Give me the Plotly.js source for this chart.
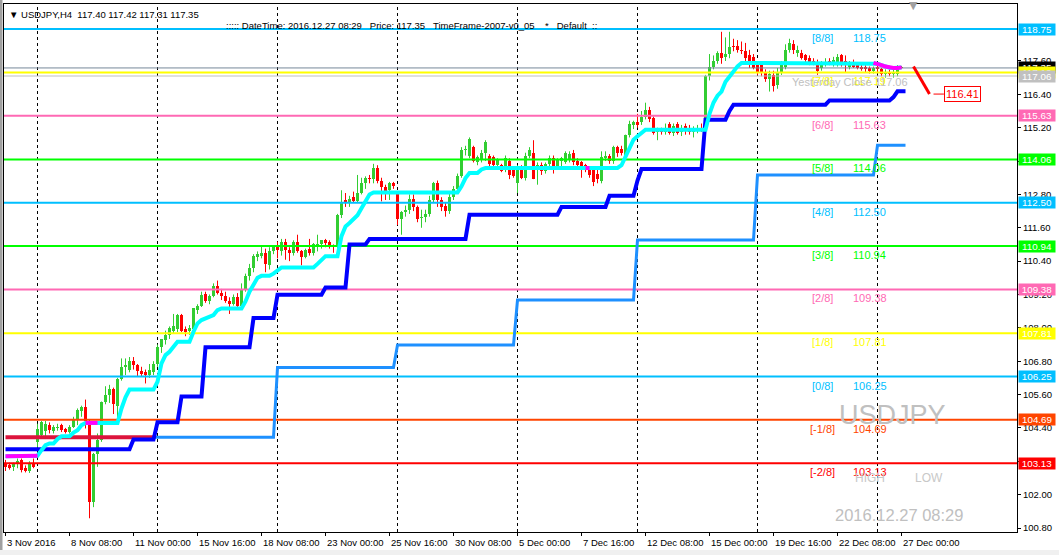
<!DOCTYPE html>
<html><head><meta charset="utf-8">
<script src="https://cdn.plot.ly/plotly-3.0.1.min.js"></script>
<style>html,body{margin:0;padding:0;background:#fff;overflow:hidden}#chart{width:1059px;height:555px}</style>
</head><body><div id="chart"></div>
<script>
// ---- H4 candles (bar index 0 = first visible bar) ----
const barOpen = [
103.15,103.05,102.98,103.10,103.25,102.95,102.85,103.15,103.90,104.15,
104.30,104.50,104.30,104.40,104.50,104.35,104.25,104.45,104.70,105.00,
105.15,104.60,101.75,103.45,103.95,105.35,105.60,105.80,105.20,106.15,
106.60,106.50,106.80,106.65,106.45,106.40,106.30,106.40,106.70,107.30,
107.55,107.75,107.90,107.95,108.45,107.95,107.90,107.95,108.65,108.80,
109.20,108.95,109.15,109.50,109.25,109.15,108.95,108.85,109.10,108.80,
109.40,109.85,110.15,110.55,110.60,110.70,110.25,110.75,110.90,110.75,
111.10,110.80,110.70,111.10,110.75,110.55,110.85,110.70,110.90,111.00,
111.15,111.10,110.95,110.90,112.05,112.60,112.50,112.70,112.55,112.85,
113.20,113.40,113.35,113.75,113.30,113.05,112.95,113.20,112.80,111.90,
112.15,112.25,112.65,112.35,111.95,112.00,112.10,112.60,113.20,112.60,
112.40,112.20,112.70,113.00,113.45,114.40,114.20,114.50,113.95,114.05,
114.30,114.20,114.15,113.85,113.85,113.70,114.00,113.75,113.20,113.80,
113.40,114.20,114.30,113.70,113.85,113.65,113.90,114.10,113.80,114.00,
113.95,114.05,114.30,114.00,113.95,113.85,113.70,113.75,113.55,113.30,
114.10,114.20,114.00,114.50,114.45,114.20,114.95,115.30,115.40,115.40,
115.60,115.85,115.55,115.05,115.15,115.05,115.35,115.00,115.35,115.05,
115.25,115.15,115.05,115.15,115.20,115.10,117.05,117.40,117.60,117.90,
117.75,117.85,118.15,118.15,118.00,117.95,117.80,117.75,117.45,117.45,
117.20,116.95,117.10,116.75,117.20,117.40,118.00,118.20,117.90,117.90,
117.80,117.70,117.60,117.55,117.35,117.50,117.60,117.50,117.55,117.80,
117.60,117.40,117.55,117.45,117.40,117.40,117.35,117.25,117.40,117.30,
117.15,117.20,117.15,117.15,117.40];
const barHigh = [
103.25,103.15,103.15,103.30,103.30,103.05,103.20,103.30,104.55,104.65,
104.65,104.60,104.50,104.55,104.55,104.40,104.50,104.80,105.10,105.20,
105.42,104.70,103.50,104.20,105.35,105.90,105.95,105.85,106.20,106.90,
106.90,106.95,106.95,106.70,106.60,106.50,106.70,106.80,107.40,107.60,
107.90,108.05,108.50,108.50,108.50,108.05,108.10,108.70,108.85,109.30,
109.30,109.20,109.60,109.70,109.40,109.30,109.10,109.20,109.25,109.60,
109.95,110.30,110.65,110.75,110.95,110.85,110.90,110.95,111.10,111.20,
111.20,110.90,111.15,111.35,110.80,110.85,111.20,111.05,111.35,111.15,
111.20,111.15,111.00,112.10,112.95,112.85,112.75,112.90,113.50,113.40,
113.45,113.50,113.90,113.85,113.40,113.15,113.25,113.25,112.85,112.20,
112.40,112.80,112.80,112.40,112.25,112.25,112.75,113.25,113.30,112.70,
112.50,112.85,113.10,113.55,114.50,114.55,114.85,114.55,114.20,114.40,
114.75,114.25,114.20,114.10,113.90,114.20,114.10,113.80,113.85,113.85,
114.30,114.50,114.75,113.95,113.95,113.95,114.20,114.20,114.10,114.15,
114.35,114.35,114.40,114.10,114.00,113.90,113.75,113.80,113.70,114.35,
114.35,114.25,114.55,114.55,114.55,114.95,115.45,115.45,115.70,115.80,
116.10,115.95,115.60,115.20,115.20,115.35,115.40,115.35,115.40,115.30,
115.35,115.30,115.25,115.30,115.35,117.10,117.85,117.80,117.95,118.65,
118.45,118.65,118.40,118.35,118.30,118.25,118.00,117.85,117.50,117.50,
117.30,117.25,117.25,117.35,117.60,118.20,118.40,118.35,118.15,118.00,
117.85,117.80,117.70,117.65,117.60,117.70,117.70,117.75,117.85,117.85,
117.80,117.60,117.65,117.50,117.50,117.45,117.40,117.40,117.45,117.35,
117.30,117.30,117.30,117.45,117.42];
const barLow = [
102.85,102.90,102.85,102.95,102.80,102.80,102.78,102.95,103.70,104.10,
104.00,104.20,104.20,104.30,104.25,104.20,104.20,104.40,104.50,104.80,
104.38,101.15,101.55,103.00,103.90,105.25,105.30,104.90,104.75,106.10,
106.30,106.40,106.50,106.25,106.25,106.00,106.20,106.30,106.60,107.10,
107.40,107.60,107.80,107.85,107.85,107.70,107.75,107.90,108.50,108.75,
108.90,108.85,109.10,109.20,109.00,108.90,108.50,108.80,108.70,108.75,
109.30,109.70,110.00,110.40,110.50,110.00,110.10,110.65,110.50,110.60,
110.45,110.40,110.60,110.70,110.25,110.50,110.60,110.60,110.75,110.85,
110.90,110.85,110.70,110.80,111.95,112.35,112.35,112.50,112.50,112.80,
113.00,113.20,113.20,113.20,112.55,112.60,112.60,113.00,111.70,111.35,
112.00,112.10,112.20,111.80,111.60,111.80,112.00,112.50,112.35,112.20,
112.00,112.10,112.60,112.90,113.40,114.20,114.10,113.95,113.85,113.95,
114.00,113.70,113.75,113.70,113.60,113.60,113.35,113.40,112.85,113.35,
113.30,114.10,113.35,113.15,113.50,113.55,113.80,113.55,113.70,113.80,
113.90,113.95,113.85,113.80,113.40,113.60,113.40,113.10,113.20,113.20,
114.00,113.90,113.90,114.15,114.20,114.10,114.85,115.15,115.20,115.30,
115.50,115.40,114.95,114.75,114.95,114.95,114.95,114.90,114.95,114.90,
114.95,114.95,114.85,115.00,115.05,115.00,116.90,117.30,117.50,117.50,
117.60,117.70,117.95,117.90,117.85,117.60,117.35,117.30,117.10,117.05,
116.85,116.50,116.50,116.60,117.10,117.30,117.90,117.85,117.75,117.65,
117.55,117.45,117.45,117.10,117.25,117.40,117.45,117.40,117.40,117.40,
117.20,117.30,117.35,117.30,117.25,117.20,117.15,117.15,117.20,117.05,
117.00,117.05,117.00,117.05,117.31];
const barClose = [
103.00,102.95,103.10,103.20,102.90,102.85,103.15,103.00,104.35,104.60,
104.55,104.32,104.42,104.45,104.33,104.25,104.45,104.70,105.05,105.15,
104.66,101.75,103.46,103.95,105.35,105.60,105.80,105.25,106.15,106.60,
106.65,106.80,106.65,106.45,106.35,106.30,106.50,106.70,107.30,107.60,
107.75,108.00,108.05,108.45,107.90,107.85,108.00,108.70,108.80,109.18,
108.95,109.15,109.50,109.25,109.15,108.95,108.85,109.10,108.80,109.40,
109.85,110.15,110.60,110.65,110.70,110.30,110.75,110.90,110.80,111.10,
110.80,110.70,111.10,110.75,110.55,110.80,110.70,111.00,111.00,111.15,
111.05,110.90,110.90,112.07,112.50,112.50,112.65,112.55,112.85,113.20,
113.40,113.35,113.75,113.30,113.05,112.90,113.20,113.10,111.90,112.15,
112.25,112.65,112.35,111.90,112.00,112.10,112.60,113.20,112.60,112.35,
112.20,112.70,113.00,113.45,114.40,114.45,114.80,114.00,114.15,114.30,
114.70,113.90,113.85,114.05,113.65,114.10,113.50,113.45,113.80,113.40,
114.20,114.40,113.35,113.85,113.65,113.90,114.10,113.80,114.05,114.10,
114.30,114.25,113.95,113.85,113.70,113.70,113.50,113.25,113.35,114.15,
114.20,114.00,114.50,114.30,114.30,114.95,115.35,115.40,115.30,115.60,
115.85,115.50,115.00,115.15,115.05,115.20,115.00,115.25,115.00,115.20,
115.10,115.05,115.15,115.20,115.10,117.05,117.40,117.60,117.90,117.70,
117.85,118.10,118.10,118.00,117.95,117.70,117.50,117.35,117.20,117.20,
116.95,117.15,116.70,117.20,117.45,118.00,118.25,118.00,118.00,117.70,
117.65,117.55,117.50,117.25,117.50,117.55,117.50,117.65,117.75,117.55,
117.50,117.55,117.40,117.35,117.30,117.30,117.25,117.35,117.30,117.15,
117.20,117.15,117.20,117.40,117.35];

// ---- trailing line (cyan; magenta where it turns down) ----
const trailLine = [
103.38,103.38,103.38,103.38,103.38,103.38,103.38,103.38,103.40,103.60,
103.78,103.84,103.84,104.00,104.10,104.10,104.10,104.23,104.32,104.50,
104.58,104.58,104.58,104.58,104.58,104.58,104.58,104.58,104.58,105.10,
105.50,105.78,105.78,105.78,105.78,105.78,105.78,105.78,106.06,106.72,
107.02,107.14,107.32,107.50,107.50,107.50,107.50,107.86,108.16,108.28,
108.34,108.40,108.46,108.64,108.70,108.70,108.70,108.70,108.70,108.70,
108.95,109.30,109.55,109.80,109.87,109.87,109.87,109.95,110.05,110.17,
110.17,110.17,110.17,110.17,110.17,110.17,110.17,110.17,110.30,110.45,
110.58,110.58,110.58,110.58,111.30,111.65,111.77,111.90,112.05,112.30,
112.55,112.80,112.87,112.87,112.87,112.87,112.87,112.87,112.87,112.87,
112.87,112.87,112.87,112.87,112.87,112.87,112.87,112.87,112.87,112.87,
112.87,112.87,112.87,112.87,113.09,113.39,113.57,113.57,113.57,113.70,
113.75,113.75,113.75,113.75,113.75,113.75,113.75,113.75,113.75,113.75,
113.75,113.75,113.75,113.75,113.75,113.75,113.75,113.75,113.75,113.75,
113.75,113.75,113.75,113.75,113.75,113.75,113.75,113.75,113.75,113.75,
113.75,113.75,113.75,113.75,113.85,114.17,114.53,114.77,114.89,115.01,
115.13,115.13,115.13,115.13,115.13,115.13,115.13,115.13,115.13,115.13,
115.13,115.13,115.13,115.13,115.13,115.13,115.70,116.10,116.35,116.50,
116.85,117.05,117.23,117.41,117.53,117.53,117.53,117.53,117.53,117.53,
117.53,117.53,117.53,117.53,117.53,117.53,117.53,117.53,117.53,117.53,
117.53,117.53,117.53,117.53,117.53,117.53,117.53,117.53,117.53,117.53,
117.53,117.53,117.53,117.53,117.53,117.53,117.53,117.53,117.50,117.45,
117.40,117.36,117.35,117.35,117.37];
const trailDownSpans = [[0, 8], [20, 23], [145, 146], [217, 224]];

// ---- blue step line ----
const blueStep = [
103.63,103.63,103.63,103.63,103.63,103.63,103.63,103.63,103.63,103.63,
103.63,103.63,103.63,103.63,103.63,103.63,103.63,103.63,103.63,103.63,
103.63,103.63,103.63,103.63,103.63,103.63,103.63,103.63,103.63,103.63,
103.63,103.63,103.98,103.98,103.98,103.98,103.98,103.98,104.60,104.60,
104.60,104.60,104.60,104.60,105.53,105.53,105.53,105.53,105.53,105.53,
107.30,107.30,107.30,107.30,107.30,107.30,107.30,107.30,107.30,107.30,
107.30,107.30,108.35,108.35,108.35,108.35,108.35,108.35,109.19,109.19,
109.19,109.19,109.19,109.19,109.19,109.19,109.19,109.19,109.19,109.19,
109.45,109.45,109.45,109.45,109.45,109.45,111.00,111.00,111.00,111.00,
111.00,111.20,111.20,111.20,111.20,111.20,111.20,111.20,111.20,111.20,
111.20,111.20,111.20,111.20,111.20,111.20,111.20,111.20,111.20,111.20,
111.20,111.20,111.20,111.20,111.20,111.20,112.07,112.07,112.07,112.07,
112.07,112.07,112.07,112.07,112.07,112.07,112.07,112.07,112.07,112.07,
112.07,112.07,112.07,112.07,112.07,112.07,112.07,112.07,112.07,112.35,
112.35,112.35,112.35,112.35,112.35,112.35,112.35,112.35,112.35,112.35,
112.35,112.75,112.75,112.75,112.75,112.75,112.75,112.75,113.30,113.71,
113.71,113.71,113.71,113.71,113.71,113.71,113.71,113.71,113.71,113.71,
113.71,113.71,113.71,113.71,113.71,115.49,115.49,115.49,115.49,115.49,
115.49,115.80,116.03,116.03,116.03,116.03,116.03,116.03,116.03,116.03,
116.03,116.03,116.03,116.03,116.03,116.03,116.03,116.03,116.03,116.03,
116.03,116.03,116.03,116.03,116.03,116.03,116.18,116.18,116.18,116.18,
116.18,116.18,116.18,116.18,116.18,116.18,116.18,116.18,116.18,116.18,
116.18,116.18,116.30,116.51,116.51];

// ---- weekly step line (first week crimson, then dodger blue) ----
const weekStartBars = [0, 37, 68, 98, 128, 158, 188, 218];
const weekLevels = [104.06, 104.06, 106.57, 107.38, 109.00, 111.16, 113.50, 114.57];

// ---- Murrey Math levels ----
const mmNames  = ['[8/8]','[7/8]','[6/8]','[5/8]','[4/8]','[3/8]','[2/8]','[1/8]','[0/8]','[-1/8]','[-2/8]'];
const mmLevels = [118.75, 117.19, 115.63, 114.06, 112.50, 110.94, 109.38, 107.81, 106.25, 104.69, 103.13];
const yesterdayClose = 117.06;
const bidPrice = 117.35;
const projX = [227, 231];
const projY = [117.40, 116.41];
const projTarget = 116.41;

// ---- axes ----
const xTickBars = [0,16,32,48,64,80,96,112,128,144,160,176,192,208,224];
const xTickLabels = ['3 Nov 2016','8 Nov 08:00','11 Nov 00:00','15 Nov 16:00','18 Nov 08:00','23 Nov 00:00',
  '25 Nov 16:00','30 Nov 08:00','5 Dec 00:00','7 Dec 16:00','12 Dec 08:00','15 Dec 00:00','19 Dec 16:00',
  '22 Dec 08:00','27 Dec 00:00'];
const yTickVals = [100.80,102.00,103.20,104.40,105.60,106.80,108.00,109.20,110.40,111.60,112.80,114.00,115.20,116.40,117.60];
const gridBars = [8, 38, 68, 98, 128, 158, 188, 218];

// ================= drawing =================
const UP = '#32CD32', DN = '#FF0000';
const mmColors = ['#00BFFF','#FFFF00','#FF69B4','#00FF00','#00BFFF','#00FF00','#FF69B4','#FFFF00','#00BFFF','#FF4500','#FF0000'];
const FONT = 'Liberation Sans, Arial, sans-serif';
const idx = barOpen.map((_, i) => i);
const XR = [-0.375, 252.875];
const traces = [];

function wick(up) {
  const xs = [], ys = [];
  idx.forEach(i => {
    if ((barClose[i] >= barOpen[i]) === up) { xs.push(i, i, null); ys.push(barLow[i], barHigh[i], null); }
  });
  return {type:'scatter', mode:'lines', x:xs, y:ys, line:{color: up ? UP : DN, width:1}, hoverinfo:'skip'};
}
traces.push(wick(true), wick(false));
traces.push({type:'bar', x:idx, base:barOpen, y:idx.map(i => barClose[i] - barOpen[i]), width:0.75,
  marker:{color: idx.map(i => barClose[i] >= barOpen[i] ? UP : DN), line:{width:0}}, hoverinfo:'skip'});

// horizontal level lines
mmLevels.forEach((lv, k) => {
  traces.push({type:'scatter', mode:'lines', x:XR, y:[lv, lv], line:{color:mmColors[k], width:2}, hoverinfo:'skip'});
});
traces.push({type:'scatter', mode:'lines', x:XR, y:[yesterdayClose, yesterdayClose], line:{color:'#C0C0C0', width:1}, hoverinfo:'skip'});
traces.push({type:'scatter', mode:'lines', x:XR, y:[bidPrice, bidPrice], line:{color:'#778899', width:1}, hoverinfo:'skip'});

// weekly step line
function weekLevelAt(i) { let v = null; weekStartBars.forEach((b, k) => { if (i >= b) v = weekLevels[k]; }); return v; }
const firstWeekEnd = weekStartBars[1];
const lastBar = idx.length - 1;
const wkX = idx.filter(i => i >= firstWeekEnd).concat([lastBar + 1]);
traces.push({type:'scatter', mode:'lines', x:idx.filter(i => i <= firstWeekEnd), y:idx.filter(i => i <= firstWeekEnd).map(() => weekLevels[0]),
  line:{color:'#DC143C', width:4}, hoverinfo:'skip'});
traces.push({type:'scatter', mode:'lines', x:wkX, y:wkX.map(i => weekLevelAt(Math.min(i, lastBar))),
  line:{color:'#1E90FF', width:3}, hoverinfo:'skip'});

// blue step
const blX = idx.concat([lastBar + 1]);
traces.push({type:'scatter', mode:'lines', x:blX, y:blX.map(i => blueStep[Math.min(i, lastBar)]), line:{color:'#0000FF', width:4}, hoverinfo:'skip'});
// trailing line
traces.push({type:'scatter', mode:'lines', x:idx, y:trailLine, line:{color:'#00FFFF', width:4}, hoverinfo:'skip'});
const magentaY = idx.map(i => trailDownSpans.some(s => i >= s[0] && i <= s[1]) ? trailLine[i] : null);
traces.push({type:'scatter', mode:'lines', x:idx, y:magentaY, line:{color:'#FF00FF', width:4}, connectgaps:false, hoverinfo:'skip'});

// projection
traces.push({type:'scatter', mode:'lines', x:projX, y:projY, line:{color:'#FF0000', width:3}, hoverinfo:'skip'});
traces.push({type:'scatter', mode:'lines', x:[projX[1] + 1, projX[1] + 3.6], y:[projTarget, projTarget], line:{color:'#FF0000', width:1}, hoverinfo:'skip'});

// ---- layout helpers (pixel -> paper) ----
const PL = 4, PR = 1017, PT = 4, PB = 532;
const px = v => (v - PL) / (PR - PL);
const py = v => (PB - v) / (PB - PT);

const ann = [];
// level texts
mmLevels.forEach((lv, k) => {
  const c = mmColors[k];
  ann.push({xref:'paper', yref:'y', x:px(822), y:lv, xanchor:'center', yanchor:'top', yshift:-1, showarrow:false,
    text:mmNames[k], font:{family:FONT, size:11, color:c}});
  ann.push({xref:'paper', yref:'y', x:px(869.5), y:lv, xanchor:'center', yanchor:'top', yshift:-1, showarrow:false,
    text:lv.toFixed(2), font:{family:FONT, size:11, color:c}});
});
ann.push({xref:'paper', yref:'paper', x:px(790), y:py(82), xanchor:'left', yanchor:'middle', showarrow:false,
  text:'Yesterday Close ' + yesterdayClose.toFixed(2), font:{family:FONT, size:11, color:'#C0C0C0'}});

// right axis labels
function axisLabel(v, bg) {
  ann.push({xref:'paper', yref:'y', x:1, y:v, xanchor:'left', yanchor:'middle', xshift:1, showarrow:false,
    text:v.toFixed(2), bgcolor:bg, borderpad:1, width:34, height:9, align:'center',
    font:{family:FONT, size:9.8, color:'#FFFFFF'}});
}
mmLevels.forEach((lv, k) => { if (k !== 1) axisLabel(lv, mmColors[k]); });
axisLabel(bidPrice, '#000000');
axisLabel(mmLevels[1], mmColors[1]);
axisLabel(yesterdayClose, '#C0C0C0');

// projection target box
ann.push({xref:'x', yref:'y', x:239.3, y:projTarget, xanchor:'center', yanchor:'middle', showarrow:false,
  text:projTarget.toFixed(2), bgcolor:'#FFFFFF', bordercolor:'#FF0000', borderwidth:1, borderpad:1,
  font:{family:FONT, size:11, color:'#FF0000'}});

// watermarks
ann.push({xref:'paper', yref:'paper', x:px(892.5), y:py(415), xanchor:'center', yanchor:'middle', showarrow:false,
  text:'USDJPY', font:{family:FONT, size:27, color:'#C0C0C0'}});
ann.push({xref:'paper', yref:'paper', x:px(870), y:py(477.5), xanchor:'center', yanchor:'middle', showarrow:false,
  text:'HIGH', font:{family:FONT, size:12, color:'#C8C8C8'}});
ann.push({xref:'paper', yref:'paper', x:px(928.5), y:py(477.5), xanchor:'center', yanchor:'middle', showarrow:false,
  text:'LOW', font:{family:FONT, size:12, color:'#C8C8C8'}});
ann.push({xref:'paper', yref:'paper', x:px(899), y:py(515), xanchor:'center', yanchor:'middle', showarrow:false,
  text:'2016.12.27 08:29', font:{family:FONT, size:16.5, color:'#C0C0C0'}});

// header
const sp = n => '\u00A0'.repeat(n);
ann.push({xref:'paper', yref:'paper', x:px(7), y:py(14.5), xanchor:'left', yanchor:'middle', showarrow:false,
  text:'\u25BC' + sp(1) + 'USDJPY,H4' + sp(2) + barOpen[lastBar].toFixed(2) + ' ' + barHigh[lastBar].toFixed(2) + ' ' + barLow[lastBar].toFixed(2) + ' ' + barClose[lastBar].toFixed(2),
  font:{family:FONT, size:9.5, color:'#000'}});
ann.push({xref:'paper', yref:'paper', x:px(224), y:py(25.5), xanchor:'left', yanchor:'middle', showarrow:false,
  text:':::::' + sp(1) + 'DateTime:' + sp(1) + '2016.12.27 08:29' + sp(3) + 'Price:' + sp(1) + bidPrice.toFixed(2) + sp(3) +
       'TimeFrame-2007-v0_05' + sp(4) + '*' + sp(3) + 'Default' + sp(2) + '::',
  font:{family:FONT, size:9.5, color:'#000'}});
ann.push({xref:'paper', yref:'paper', x:px(913), y:py(5.5), xanchor:'center', yanchor:'middle', showarrow:false,
  text:'\u25BC', font:{family:'DejaVu Sans', size:11, color:'#A0A0A0'}});

// x tick labels: MT4 draws them to the right of each tick mark
xTickBars.forEach((b, k) => {
  ann.push({xref:'x', yref:'paper', x:b, y:0, xanchor:'left', yanchor:'top', xshift:-1, yshift:-3, showarrow:false,
    text:xTickLabels[k], font:{family:FONT, size:9.5, color:'#000'}});
});

// shapes: grid + window border
const shapes = gridBars.map(b => ({type:'line', xref:'x', yref:'paper', x0:b, x1:b, y0:0, y1:1,
  line:{color:'#000', width:1, dash:'3px,3px'}, layer:'below'}));
shapes.push({type:'rect', xref:'paper', yref:'paper', x0:px(0), x1:px(2.5), y0:py(555), y1:py(0), fillcolor:'#A0A0A0', line:{width:0}});
shapes.push({type:'rect', xref:'paper', yref:'paper', x0:px(0), x1:px(1059), y0:py(555), y1:py(550), fillcolor:'#F0F0F0', line:{width:0}});

const layout = {
  width:1059, height:555, margin:{l:PL, r:1059 - PR, t:PT, b:555 - PB, pad:0},
  paper_bgcolor:'#FFFFFF', plot_bgcolor:'#FFFFFF', showlegend:false,
  font:{family:FONT, size:9.5, color:'#000'},
  xaxis:{range:XR, tickmode:'array', tickvals:xTickBars, ticktext:xTickBars.map(() => ''), ticks:'outside', ticklen:3,
    tickwidth:1, tickcolor:'#000', showgrid:false, zeroline:false, tickangle:0, automargin:false,
    showline:true, linecolor:'#000', linewidth:1, mirror:true, tickfont:{family:FONT, size:9.5, color:'#000'}},
  yaxis:{side:'right', range:[100.656, 119.65], tickmode:'array', tickvals:yTickVals, automargin:false,
    ticktext:yTickVals.map(v => v.toFixed(2)), ticks:'outside', ticklen:3, tickwidth:1, tickcolor:'#000',
    showgrid:false, zeroline:false, showline:true, linecolor:'#000', linewidth:1, mirror:true,
    tickfont:{family:FONT, size:9.5, color:'#000'}},
  annotations:ann, shapes:shapes, bargap:0
};
Plotly.newPlot('chart', traces, layout, {staticPlot:true, displayModeBar:false});
</script></body></html>
